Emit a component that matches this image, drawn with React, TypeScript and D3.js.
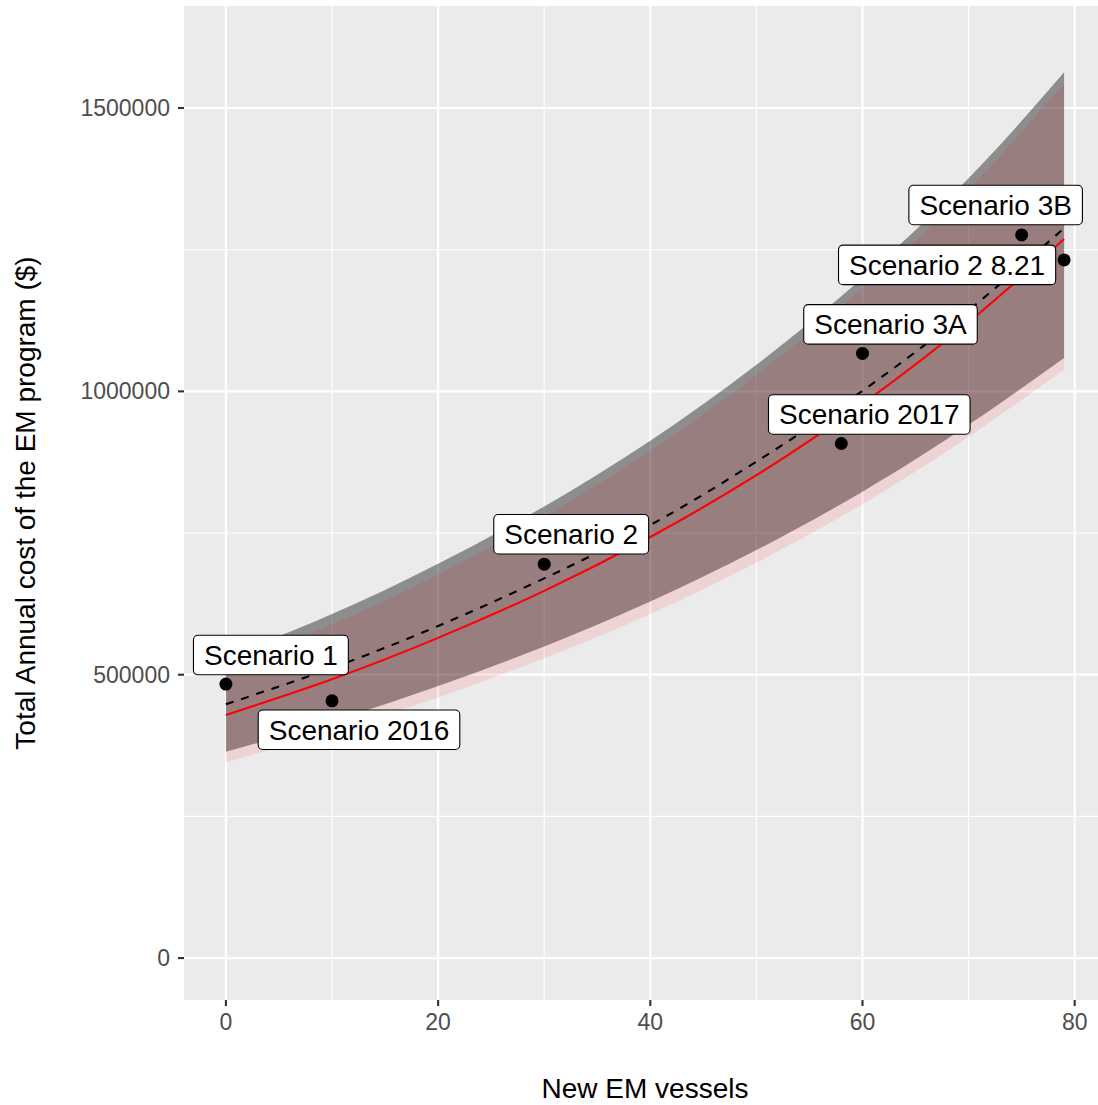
import { useEffect, useRef } from "react";
import * as d3 from "d3";

// fitted curves, read at these vessel counts
const vessels = [0, 10, 20, 30, 40, 50, 60, 70, 79];
const grayUpper = [530000, 607000, 696000, 797000, 913000, 1047000, 1200000, 1376000, 1563000];
const grayLower = [364000, 418000, 480000, 550000, 629000, 720000, 823000, 941000, 1059000];
const pinkUpper = [512000, 589000, 677000, 779000, 895000, 1029000, 1182000, 1357000, 1544000];
const pinkLower = [346000, 399000, 460000, 529000, 607000, 698000, 801000, 920000, 1038000];
const redFit = [429000, 492000, 565000, 648000, 743000, 852000, 978000, 1122000, 1269000];
const dashedFit = [448000, 512000, 586000, 670000, 764000, 876000, 1001000, 1143000, 1288000];

// scenarios
const scenarioNames = ["Scenario 1", "Scenario 2016", "Scenario 2", "Scenario 2017", "Scenario 3A", "Scenario 3B", "Scenario 2 8.21"];
const scenarioVessels = [0, 10, 30, 58, 60, 75, 79];
const scenarioCost = [483500, 454000, 695000, 908000, 1067000, 1276000, 1232000];

// where the repelled labels sit relative to their point (px)
const labelOffsets = [[45, -29], [27, 29], [27, -30], [28, -29], [28, -29], [-26, -30], [-117, 5]];

const xTicks = [0, 20, 40, 60, 80];
const xMinor = [10, 30, 50, 70];
const yTicks = [0, 500000, 1000000, 1500000];
const yMinor = [250000, 750000, 1250000];

const FONT = "'Liberation Sans', Arial, sans-serif";

export default function App() {
  const svgRef = useRef<SVGSVGElement>(null);

  useEffect(() => {
    if (!svgRef.current) return;
    const svg = d3.select(svgRef.current);
    svg.selectAll("*").remove();

    const panel = { left: 184, right: 1106, top: 6, bottom: 1000 };

    const x = d3.scaleLinear().domain([-3.95, 82.95]).range([panel.left, panel.right]);
    const y = d3.scaleLinear().domain([-74000, 1680000]).range([panel.bottom, panel.top]);

    svg
      .append("defs")
      .append("clipPath")
      .attr("id", "panel-clip")
      .append("rect")
      .attr("x", panel.left)
      .attr("y", panel.top)
      .attr("width", panel.right - panel.left)
      .attr("height", panel.bottom - panel.top);

    // panel background
    svg
      .append("rect")
      .attr("x", panel.left)
      .attr("y", panel.top)
      .attr("width", panel.right - panel.left)
      .attr("height", panel.bottom - panel.top)
      .attr("fill", "#EBEBEB");

    const grid = svg.append("g");
    xMinor.forEach(v => {
      grid.append("line").attr("x1", x(v)).attr("x2", x(v)).attr("y1", panel.top).attr("y2", panel.bottom)
        .attr("stroke", "#FFFFFF").attr("stroke-width", 1.1);
    });
    yMinor.forEach(v => {
      grid.append("line").attr("x1", panel.left).attr("x2", panel.right).attr("y1", y(v)).attr("y2", y(v))
        .attr("stroke", "#FFFFFF").attr("stroke-width", 1.1);
    });
    xTicks.forEach(v => {
      grid.append("line").attr("x1", x(v)).attr("x2", x(v)).attr("y1", panel.top).attr("y2", panel.bottom)
        .attr("stroke", "#FFFFFF").attr("stroke-width", 2.2);
    });
    yTicks.forEach(v => {
      grid.append("line").attr("x1", panel.left).attr("x2", panel.right).attr("y1", y(v)).attr("y2", y(v))
        .attr("stroke", "#FFFFFF").attr("stroke-width", 2.2);
    });

    const plot = svg.append("g").attr("clip-path", "url(#panel-clip)");
    const idx = d3.range(vessels.length);

    const ribbon = (lo: number[], hi: number[]) =>
      d3.area<number>()
        .x(i => x(vessels[i]))
        .y0(i => y(lo[i]))
        .y1(i => y(hi[i]))
        .curve(d3.curveNatural)(idx);

    const line = (vals: number[]) =>
      d3.line<number>()
        .x(i => x(vessels[i]))
        .y(i => y(vals[i]))
        .curve(d3.curveNatural)(idx);

    plot.append("path").attr("d", ribbon(grayLower, grayUpper)).attr("fill", "#000000").attr("fill-opacity", 0.4);
    plot.append("path").attr("d", ribbon(pinkLower, pinkUpper)).attr("fill", "#FF0000").attr("fill-opacity", 0.1);

    plot.append("path").attr("d", line(redFit)).attr("fill", "none").attr("stroke", "#FF0000").attr("stroke-width", 2.1);
    plot.append("path").attr("d", line(dashedFit)).attr("fill", "none").attr("stroke", "#000000")
      .attr("stroke-width", 2.1).attr("stroke-dasharray", "8,8");

    scenarioNames.forEach((_, i) => {
      plot.append("circle")
        .attr("cx", x(scenarioVessels[i]))
        .attr("cy", y(scenarioCost[i]))
        .attr("r", 6.5)
        .attr("fill", "#000000");
    });

    // labels
    scenarioNames.forEach((name, i) => {
      const cx = x(scenarioVessels[i]) + labelOffsets[i][0];
      const cy = y(scenarioCost[i]) + labelOffsets[i][1];
      const g = plot.append("g");
      const rect = g.append("rect");
      const txt = g.append("text")
        .attr("x", cx)
        .attr("y", cy + 10)
        .attr("text-anchor", "middle")
        .style("font-family", FONT)
        .style("font-size", "28px")
        .attr("fill", "#000000")
        .text(name);
      const w = (txt.node() as SVGTextElement).getComputedTextLength() + 21;
      const h = 39.5;
      rect
        .attr("x", cx - w / 2)
        .attr("y", cy - h / 2)
        .attr("width", w)
        .attr("height", h)
        .attr("rx", 4.5)
        .attr("fill", "#FFFFFF")
        .attr("stroke", "#000000")
        .attr("stroke-width", 1.1);
    });

    // axes
    const axes = svg.append("g");
    xTicks.forEach(v => {
      axes.append("line").attr("x1", x(v)).attr("x2", x(v)).attr("y1", panel.bottom).attr("y2", panel.bottom + 6)
        .attr("stroke", "#333333").attr("stroke-width", 2.1);
      axes.append("text").attr("x", x(v)).attr("y", 1030).attr("text-anchor", "middle")
        .style("font-family", FONT).style("font-size", "23px").attr("fill", "#4D4D4D").text(String(v));
    });
    yTicks.forEach(v => {
      axes.append("line").attr("x1", panel.left - 6).attr("x2", panel.left).attr("y1", y(v)).attr("y2", y(v))
        .attr("stroke", "#333333").attr("stroke-width", 2.1);
      axes.append("text").attr("x", 170).attr("y", y(v) + 8).attr("text-anchor", "end")
        .style("font-family", FONT).style("font-size", "23px").attr("fill", "#4D4D4D").text(String(v));
    });

    svg.append("text")
      .attr("x", (panel.left + panel.right) / 2)
      .attr("y", 1098)
      .attr("text-anchor", "middle")
      .style("font-family", FONT)
      .style("font-size", "28px")
      .attr("fill", "#000000")
      .text("New EM vessels");

    svg.append("text")
      .attr("transform", `translate(35,${(panel.top + panel.bottom) / 2}) rotate(-90)`)
      .attr("text-anchor", "middle")
      .style("font-family", FONT)
      .style("font-size", "28px")
      .attr("fill", "#000000")
      .text("Total Annual cost of the EM program ($)");
  }, []);

  return (
    <div style={{ position: "absolute", left: 0, top: 0, background: "#FFFFFF" }}>
      <svg ref={svgRef} width={1098} height={1105} style={{ display: "block" }}></svg>
    </div>
  );
}
